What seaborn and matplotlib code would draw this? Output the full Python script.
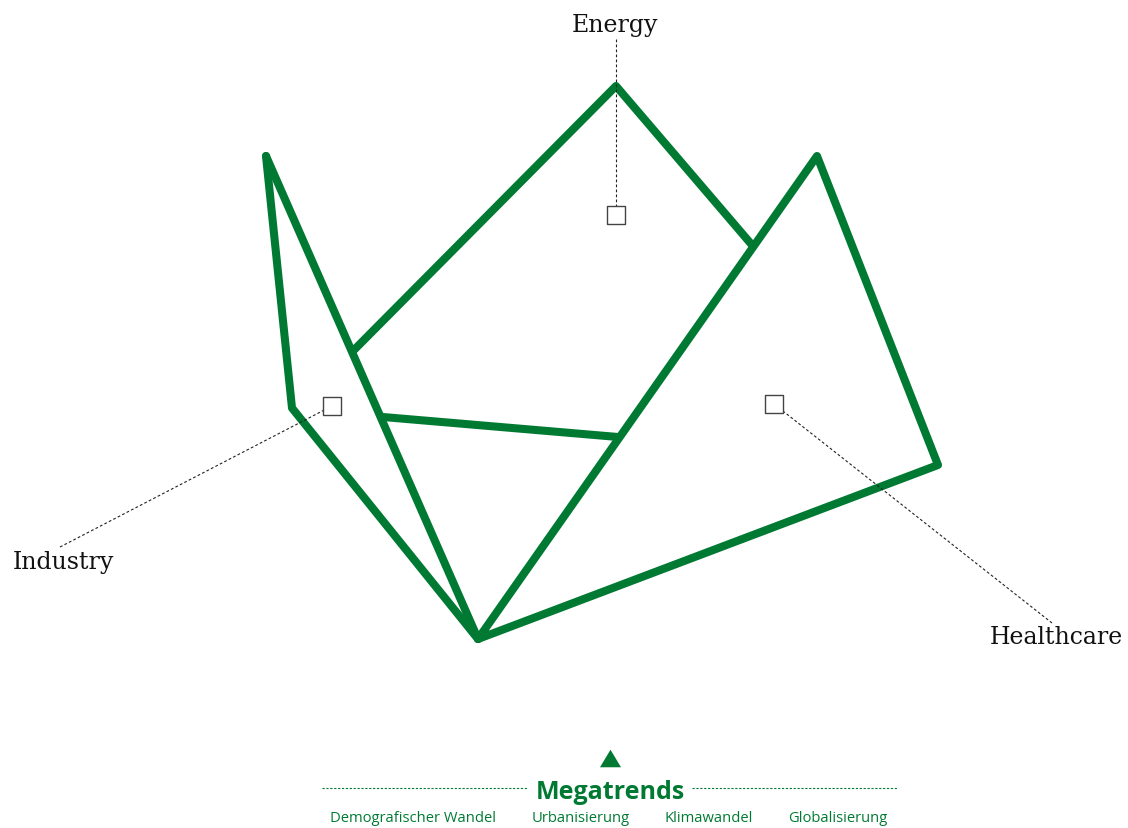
import matplotlib
matplotlib.use("Agg")
import matplotlib.pyplot as plt
import seaborn as sns
import pandas as pd

sns.set_theme(style="white")
plt.rcParams['font.family'] = ['DejaVu Sans']

GREEN = "#007A33"

# Shape vertices (canvas units, y downwards)
outer_x = [266, 292, 478, 938, 817, 478]
outer_y = [157, 409, 640, 466, 157, 640]
spine_x = [266, 478]
spine_y = [157, 640]
roof_x = [353, 616, 752]
roof_y = [352, 87, 246]
mid_x = [383, 618]
mid_y = [418, 438]

# Sector labels, anchors and label positions
sectors = ["Energy", "Industry", "Healthcare"]
anchor_x = [616, 332, 774]
anchor_y = [216, 407, 405]
leader_x = [616, 60, 1052]
leader_y = [40, 548, 624]
label_x = [615, 63, 1056]
label_y = [25, 563, 638]

megatrends = ["Demografischer Wandel", "Urbanisierung", "Klimawandel", "Globalisierung"]
mt_x = [413, 581, 709, 838]

fig = plt.figure(figsize=(11.28, 8.29), dpi=100)
ax = fig.add_axes([0, 0, 1, 1])
ax.set_xlim(0, 1128)
ax.set_ylim(829, 0)
ax.axis("off")

lw = 5.8
for xs, ys in [(outer_x, outer_y), (spine_x, spine_y), (roof_x, roof_y), (mid_x, mid_y)]:
    df = pd.DataFrame({"x": xs, "y": ys})
    sns.lineplot(data=df, x="x", y="y", sort=False, estimator=None, color=GREEN,
                 linewidth=lw, ax=ax, solid_joinstyle="round", solid_capstyle="round")

# leader lines
for i in range(3):
    ax.plot([leader_x[i], anchor_x[i]], [leader_y[i], anchor_y[i]], color="#222222",
            linewidth=0.8, linestyle=(0, (2.5, 2)), zorder=3)

sns.scatterplot(x=anchor_x, y=anchor_y, marker="s", s=150, facecolor="white",
                edgecolor="#444444", linewidth=1.0, ax=ax, zorder=5)

for name, lx, ly in zip(sectors, label_x, label_y):
    ax.text(lx, ly, name, ha="center", va="center", fontsize=17,
            family=["DejaVu Serif"], color="#111111")

# Bottom legend-like block
tri = matplotlib.path.Path([(-1.2, -1.0), (1.2, -1.0), (0, 1.0), (-1.2, -1.0)])
ax.scatter([610], [759], marker=tri, s=230, color=GREEN, linewidths=0)
ax.text(610, 793, "Megatrends", ha="center", va="center", fontsize=18,
        fontweight="bold", color=GREEN, family=["Open Sans"])
ax.plot([322, 528], [789, 789], color=GREEN, linewidth=0.8, linestyle=(0, (2, 1.5)))
ax.plot([692, 898], [789, 789], color=GREEN, linewidth=0.8, linestyle=(0, (2, 1.5)))
for name, x in zip(megatrends, mt_x):
    ax.text(x, 819, name, ha="center", va="center", fontsize=10.6,
            color=GREEN, family=["Open Sans"])

fig.savefig("out.png", dpi=100)
